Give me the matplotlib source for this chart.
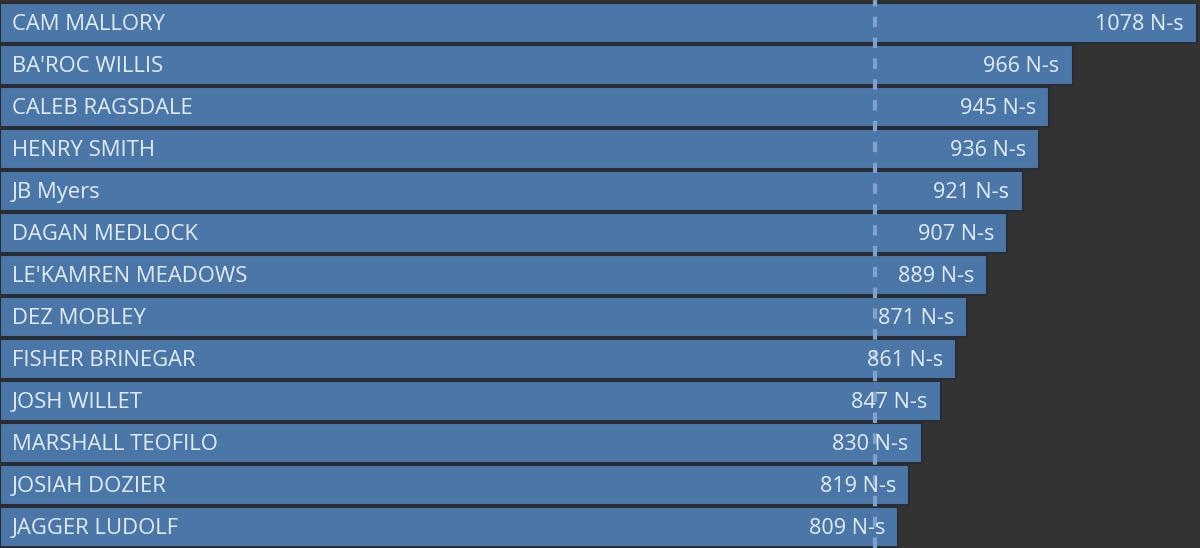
import matplotlib
matplotlib.use("Agg")
import matplotlib.pyplot as plt

names = ["CAM MALLORY", "BA'ROC WILLIS", "CALEB RAGSDALE", "HENRY SMITH", "JB Myers",
         "DAGAN MEDLOCK", "LE'KAMREN MEADOWS", "DEZ MOBLEY", "FISHER BRINEGAR",
         "JOSH WILLET", "MARSHALL TEOFILO", "JOSIAH DOZIER", "JAGGER LUDOLF"]
values = [1078, 966, 945, 936, 921, 907, 889, 871, 861, 847, 830, 819, 809]
ref_line = 788
unit = "N-s"

bg = "#333333"
bar_color = "#4b77a8"
text_color = "#e3ecf6"

fig = plt.figure(figsize=(12, 5.48), dpi=100, facecolor=bg)
ax = fig.add_axes([0, 0, 1, 1])
ax.set_facecolor(bg)

ypos = list(range(len(names)))
ax.barh(ypos, values, height=0.97, color=bar_color, edgecolor="#2a2d33", linewidth=1.5)

ax.axvline(ref_line, color="#7fa2cd", linestyle=(0, (2.5, 2.5)), linewidth=3, zorder=3)

for y, name, v in zip(ypos, names, values):
    ax.annotate(name, (0, y), xytext=(8.5, -0.8), textcoords="offset points",
                ha="left", va="center", color=text_color, fontsize=15.8,
                family="Open Sans", zorder=4)
    ax.annotate(f"{v} {unit}", (v, y), xytext=(-9.5, -0.8), textcoords="offset points",
                ha="right", va="center", color=text_color, fontsize=15.5,
                family="Open Sans", zorder=4)

ax.set_xlim(0, 1080.7)
ax.set_ylim(12.5, -0.548)
ax.axis("off")

fig.savefig("out.png", dpi=100, facecolor=bg)
